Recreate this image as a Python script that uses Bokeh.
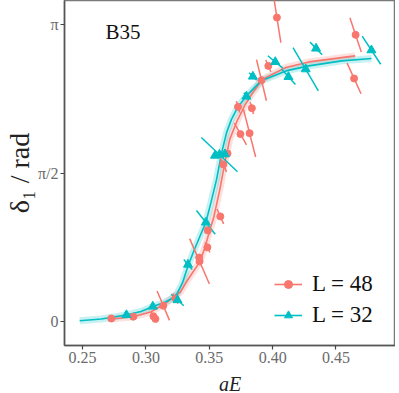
import math
from bokeh.plotting import figure
from bokeh.models import Range1d, FixedTicker, Legend, LegendItem, Label, ColumnDataSource
from bokeh.embed import file_html
from bokeh.resources import INLINE

# ---- data: L = 48 (red, circles) ----
l48_aE = [0.2726, 0.2900, 0.3059, 0.3075, 0.3137, 0.3233, 0.3423, 0.3420, 0.3485, 0.3488,
          0.3587, 0.3610, 0.3644, 0.3746, 0.3818, 0.3727, 0.3836, 0.3912, 0.3966, 0.4034,
          0.4655, 0.4643]
l48_delta = [0.034, 0.053, 0.057, 0.030, 0.169, 0.245, 0.638, 0.678, 0.786, 0.965,
             1.113, 1.663, 1.779, 1.983, 1.993, 2.271, 2.257, 2.553, 2.704, 3.215,
             3.032, 2.571]
l48_err_aE = [0.0005, 0.0005, 0.0020, 0.0015, 0.0049, 0.0020, 0.0078, 0.0012, 0.0020, 0.0016,
              0.0026, 0.0026, 0.0012, 0.0048, 0.0048, 0.0013, 0.0013, 0.0039, 0.0020, 0.0031,
              0.0045, 0.0055]
l48_err_delta = [-0.010, -0.010, -0.050, -0.035, -0.155, -0.053, -0.240, -0.032, -0.053, -0.042,
                 -0.079, -0.079, -0.030, -0.115, -0.252, -0.061, -0.062, -0.217, -0.062, -0.264,
                 -0.181, -0.162]

# ---- data: L = 32 (cyan, triangles) ----
l32_aE = [0.2846, 0.3054, 0.3249, 0.3332, 0.3473, 0.3545, 0.3580, 0.3623, 0.3793, 0.3844,
          0.4021, 0.4125, 0.4261, 0.4343, 0.4780]
l32_delta = [0.071, 0.161, 0.229, 0.604, 1.050, 1.756, 1.766, 1.771, 2.381, 2.592,
             2.746, 2.588, 2.669, 2.888, 2.870]
l32_err_aE = [0.0005, 0.0008, 0.0050, 0.0033, 0.0074, 0.0015, 0.0143, 0.0015, 0.0020, 0.0030,
              0.0059, 0.0055, 0.0100, 0.0048, 0.0073]
l32_err_delta = [-0.008, -0.010, -0.061, -0.053, -0.125, -0.020, -0.181, -0.020, -0.040, -0.040,
                 -0.065, -0.082, -0.229, -0.067, -0.149]

# ---- fitted curves ----
fit48_aE = [0.2726, 0.2900, 0.3038, 0.3134, 0.3210, 0.3272, 0.3319, 0.3366, 0.3423, 0.3467,
            0.3506, 0.3532, 0.3584, 0.3623, 0.3662, 0.3715, 0.3779, 0.3844, 0.3922, 0.4105,
            0.4286, 0.4651]
fit48_delta = [0.029, 0.053, 0.103, 0.176, 0.250, 0.314, 0.420, 0.515, 0.627, 0.788,
               0.979, 1.085, 1.402, 1.684, 1.930, 2.109, 2.284, 2.423, 2.564, 2.687,
               2.746, 2.810]
fit32_aE = [0.2477, 0.2648, 0.2843, 0.2960, 0.3054, 0.3155, 0.3210, 0.3249, 0.3288, 0.3332,
            0.3381, 0.3428, 0.3473, 0.3514, 0.3558, 0.3598, 0.3637, 0.3676, 0.3725, 0.3793,
            0.3910, 0.4105, 0.4286, 0.4546, 0.4780]
fit32_delta = [0.011, 0.029, 0.071, 0.108, 0.161, 0.209, 0.251, 0.304, 0.410, 0.589,
               0.758, 0.908, 1.050, 1.264, 1.507, 1.789, 2.001, 2.141, 2.267, 2.387,
               2.546, 2.651, 2.704, 2.757, 2.782]

x_ticks = [0.25, 0.30, 0.35, 0.40, 0.45]
x_tick_labels = ["0.25", "0.30", "0.35", "0.40", "0.45"]
y_ticks = [0.0, math.pi / 2, math.pi]
y_tick_labels = ["0", "π/2", "π"]
series_labels = ["L = 48", "L = 32"]
panel_label = "B35"

RED = "#F8766D"
CYAN = "#00BFC4"
SERIF = "Liberation Serif"

p = figure(width=395, height=400, output_backend="svg", toolbar_location=None,
           x_range=Range1d(0.2357, 0.4970), y_range=Range1d(-0.2514, 3.3951),
           min_border_left=60, min_border_right=0, min_border_top=0, min_border_bottom=55)
p.background_fill_color = "white"
p.border_fill_color = "white"
p.outline_line_color = "#7a7a7a"
p.outline_line_width = 1.5
p.xgrid.visible = False
p.ygrid.visible = False


def segs(x, y, ex, ey):
    return dict(x0=[a - b for a, b in zip(x, ex)], x1=[a + b for a, b in zip(x, ex)],
                y0=[a - b for a, b in zip(y, ey)], y1=[a + b for a, b in zip(y, ey)])


# bands + fit lines
p.line(fit48_aE, fit48_delta, line_color=RED, line_width=7, line_alpha=0.22)
p.line(fit32_aE, fit32_delta, line_color=CYAN, line_width=7, line_alpha=0.22)
r48_line = p.line(fit48_aE, fit48_delta, line_color=RED, line_width=1.6)
r32_line = p.line(fit32_aE, fit32_delta, line_color=CYAN, line_width=1.6)

# error bars
s48 = ColumnDataSource(segs(l48_aE, l48_delta, l48_err_aE, l48_err_delta))
s32 = ColumnDataSource(segs(l32_aE, l32_delta, l32_err_aE, l32_err_delta))
p.segment("x0", "y0", "x1", "y1", source=s48, line_color=RED, line_width=1.5)
p.segment("x0", "y0", "x1", "y1", source=s32, line_color=CYAN, line_width=1.5)

r48_pts = p.scatter(l48_aE, l48_delta, marker="circle", size=7, color=RED)
r32_pts = p.scatter(l32_aE, l32_delta, marker="triangle", size=9, color=CYAN)

# axes
p.xaxis.ticker = FixedTicker(ticks=x_ticks)
p.xaxis.major_label_overrides = {t: s for t, s in zip(x_ticks, x_tick_labels)}
p.yaxis.ticker = FixedTicker(ticks=y_ticks)
p.yaxis.major_label_overrides = {t: s for t, s in zip(y_ticks, y_tick_labels)}
for ax in (p.xaxis[0], p.yaxis[0]):
    ax.axis_line_color = "#555555"
    ax.axis_line_width = 1.5
    ax.major_tick_line_color = "#444444"
    ax.major_tick_line_width = 1.2
    ax.major_tick_in = 0
    ax.major_tick_out = 4
    ax.minor_tick_line_color = None
    ax.major_label_text_font = SERIF
    ax.major_label_text_font_size = "16px"
    ax.major_label_text_color = "#6a6a6a"
    ax.axis_label_text_font = SERIF
    ax.axis_label_text_font_size = "20px"
    ax.axis_label_text_color = "#222222"
    ax.axis_label_text_font_style = "normal"
p.xaxis.axis_label = "aE"
p.xaxis.axis_label_text_font_style = "italic"
p.xaxis.major_label_standoff = 2
p.xaxis.axis_label_standoff = 7
p.yaxis.axis_label = "δ₁ / rad"
p.yaxis.axis_label_text_font_size = "28px"
p.yaxis.major_label_standoff = 2
p.yaxis.axis_label_standoff = 0

p.add_layout(Label(x=0.268, y=3.06, text=panel_label, text_font=SERIF, text_font_size="21px",
                   text_baseline="middle", text_color="#111111"))

legend = Legend(items=[LegendItem(label=series_labels[0], renderers=[r48_line, r48_pts]),
                       LegendItem(label=series_labels[1], renderers=[r32_line, r32_pts])],
                location=(210, 17), border_line_color=None, background_fill_alpha=0,
                label_text_font=SERIF, label_text_font_size="23px", label_text_color="#111111",
                glyph_width=28, glyph_height=20, label_height=20, spacing=5, padding=5,
                label_standoff=10)
p.add_layout(legend)

open("out.html", "w").write(file_html(p, INLINE))
